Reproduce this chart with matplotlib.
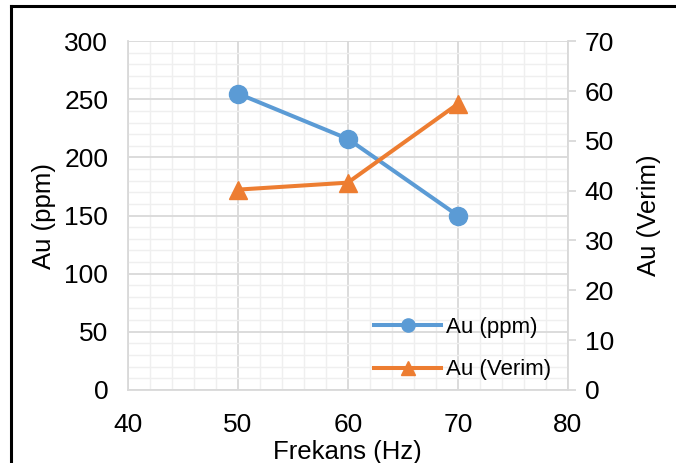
import matplotlib
matplotlib.use("Agg")
import matplotlib.pyplot as plt
from matplotlib.lines import Line2D
from matplotlib.ticker import MultipleLocator

plt.rcParams['font.family'] = ['Liberation Sans', 'DejaVu Sans']

freq = [50, 60, 70]
au_ppm = [255, 216, 150]
au_verim = [40.2, 41.6, 57.4]

blue = '#5B9BD5'
orange = '#ED7D31'
grid_major = '#D9D9D9'
grid_minor = '#EFEFEF'

fig = plt.figure(figsize=(6.76, 4.63), dpi=100)
ax = fig.add_axes([0.189, 0.158, 0.651, 0.753])
ax2 = ax.twinx()

ax.set_xlim(40, 80)
ax.set_ylim(0, 300)
ax2.set_ylim(0, 70)
ax.xaxis.set_major_locator(MultipleLocator(10))
ax.xaxis.set_minor_locator(MultipleLocator(2))
ax.yaxis.set_major_locator(MultipleLocator(50))
ax.yaxis.set_minor_locator(MultipleLocator(10))
ax2.yaxis.set_major_locator(MultipleLocator(10))

ax.grid(which='minor', color=grid_minor, lw=1.0)
ax.grid(which='major', color=grid_major, lw=1.3)
ax.set_axisbelow(True)

for s in ['top', 'right']:
    ax.spines[s].set_visible(False)
for s in ['top', 'left']:
    ax2.spines[s].set_visible(False)
ax.spines['left'].set_color(grid_major)
ax.spines['bottom'].set_color(grid_major)
ax2.spines['right'].set_color(grid_major)
ax2.spines['bottom'].set_visible(False)
for sp in ['left', 'bottom']:
    ax.spines[sp].set_linewidth(1.3)
ax2.spines['right'].set_linewidth(1.3)

ax.tick_params(axis='y', which='both', length=0, labelsize=19, pad=14)
ax.tick_params(axis='x', which='both', length=0, labelsize=19, pad=17)
ax2.tick_params(which='major', length=6, width=1.3, color=grid_major, labelsize=19, pad=6)
ax2.tick_params(which='minor', length=0)

ax.plot(freq, au_ppm, color=blue, lw=2.9, marker='o', markersize=13, zorder=3)
ax2.plot(freq, au_verim, color=orange, lw=2.9, marker='^', markersize=13, zorder=3)

ax.set_xlabel('Frekans (Hz)', fontsize=18.5, labelpad=2)
ax.set_ylabel('Au (ppm)', fontsize=18.5, labelpad=6)
ax2.set_ylabel('Au (Verim)', fontsize=18.5, labelpad=17)

handles = [Line2D([], [], color=blue, lw=2.9, marker='o', markersize=9.5),
           Line2D([], [], color=orange, lw=2.9, marker='^', markersize=9.5)]
leg = ax2.legend(handles, ['Au (ppm)', 'Au (Verim)'], loc='lower right',
                 bbox_to_anchor=(1.007, -0.03), frameon=False, fontsize=16,
                 handlelength=3.0, handletextpad=0.22, labelspacing=0.98)

# figure border lines (top and left)
fig.add_artist(Line2D([0.016, 1.0], [0.986, 0.986], color='black', lw=2.2, transform=fig.transFigure))
fig.add_artist(Line2D([0.017, 0.017], [0.0, 0.986], color='black', lw=2.2, transform=fig.transFigure))

fig.savefig('out.png', dpi=100)
